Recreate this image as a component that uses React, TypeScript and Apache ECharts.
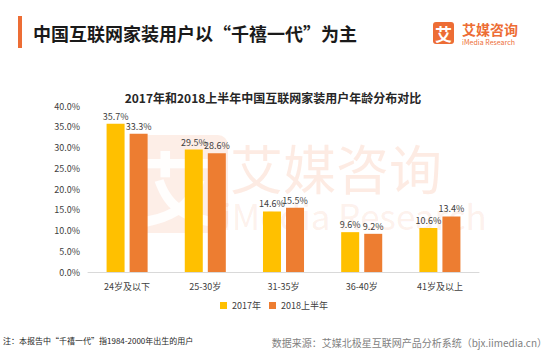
import React, { useEffect, useRef } from "react";
import * as echarts from "echarts";

const categories = ["24岁及以下", "25-30岁", "31-35岁", "36-40岁", "41岁及以上"];
const series2017 = [35.7, 29.5, 14.6, 9.6, 10.6];
const series2018 = [33.3, 28.6, 15.5, 9.2, 13.4];
const seriesNames = ["2017年", "2018上半年"];
const yTicks = { min: 0, max: 40, interval: 5 };

const FONT = "'Noto Sans CJK SC', 'Noto Sans', sans-serif";

export default function App() {
  const ref = useRef<HTMLDivElement>(null);
  useEffect(() => {
    if (!ref.current) return;
    const chart = echarts.init(ref.current, undefined, { renderer: "svg" });
    chart.setOption({
      animation: false,
      backgroundColor: "#ffffff",
      textStyle: { fontFamily: FONT },
      title: {
        text: "2017年和2018上半年中国互联网家装用户年龄分布对比",
        left: 268,
        textAlign: "center",
        top: 86,
        textStyle: { fontSize: 12, fontWeight: "bold", color: "#262626", fontFamily: FONT },
      },
      grid: { left: 88, right: 70, top: 106, bottom: 82 },
      legend: {
        data: seriesNames,
        top: 296,
        left: 215,
        itemWidth: 7,
        itemHeight: 7,
        itemGap: 8,
        icon: "rect",
        textStyle: { fontSize: 9, color: "#404040", fontFamily: FONT },
      },
      xAxis: {
        type: "category",
        data: categories,
        axisLine: { lineStyle: { color: "#d9d9d9" } },
        axisTick: { show: false },
        axisLabel: { fontSize: 9, color: "#404040", margin: 10, fontFamily: FONT },
      },
      yAxis: {
        type: "value",
        min: yTicks.min,
        max: yTicks.max,
        interval: yTicks.interval,
        splitLine: { show: false },
        axisLine: { show: false },
        axisTick: { show: false },
        axisLabel: {
          fontSize: 9,
          color: "#404040",
          margin: 8,
          fontFamily: FONT,
          formatter: (v: number) => v.toFixed(1) + "%",
        },
      },
      graphic: [
        { type: "rect", shape: { x: 18, y: 16, width: 4, height: 32 }, style: { fill: "#ED6D35" } },
        {
          type: "text",
          x: 33,
          y: 33,
          style: {
            text: "中国互联网家装用户以“千禧一代”为主",
            fontSize: 18,
            fontWeight: "bold",
            fill: "#1a1a1a",
            fontFamily: FONT,
            verticalAlign: "middle",
          },
        },
        { type: "rect", shape: { x: 433, y: 22, width: 21, height: 22, r: 3 }, style: { fill: "#ED6D35" } },
        {
          type: "text",
          x: 443.5,
          y: 33,
          style: { text: "艾", fontSize: 17, fontWeight: "bold", fill: "#ffffff", align: "center", verticalAlign: "middle", fontFamily: FONT },
        },
        {
          type: "text",
          x: 462,
          y: 29,
          style: { text: "艾媒咨询", fontSize: 14, fontWeight: "bold", fill: "#ED6D35", verticalAlign: "middle", fontFamily: FONT },
        },
        {
          type: "text",
          x: 462,
          y: 42,
          style: { text: "iMedia Research", fontSize: 7, fill: "#ED6D35", verticalAlign: "middle", fontFamily: FONT },
        },
        // watermark
        {
          type: "group",
          silent: true,
          z: -10,
          children: [
            { type: "rect", shape: { x: 130, y: 135, width: 98, height: 98, r: 10 }, style: { fill: "rgba(240,120,70,0.13)" } },
            {
              type: "text",
              x: 179,
              y: 184,
              style: { text: "艾", fontSize: 80, fontWeight: "bold", fill: "rgba(255,255,255,0.9)", align: "center", verticalAlign: "middle", fontFamily: FONT },
            },
            {
              type: "text",
              x: 230,
              y: 167,
              style: { text: "艾媒咨询", fontSize: 53, fill: "rgba(240,120,70,0.15)", verticalAlign: "middle", fontFamily: FONT },
            },
            {
              type: "text",
              x: 222,
              y: 214,
              style: { text: "iMedia Research", fontSize: 35, fill: "rgba(240,120,70,0.11)", verticalAlign: "middle", fontFamily: FONT },
            },
          ],
        },
        {
          type: "text",
          x: 3,
          y: 340,
          style: { text: "注：本报告中“千禧一代”指1984-2000年出生的用户", fontSize: 8, fill: "#262626", verticalAlign: "middle", fontFamily: FONT },
        },
        {
          type: "text",
          x: 547,
          y: 342,
          style: { text: "数据来源：艾媒北极星互联网产品分析系统（bjx.iimedia.cn）", fontSize: 10, fill: "#7f7f7f", align: "right", verticalAlign: "middle", fontFamily: FONT },
        },
      ],
      series: [
        {
          name: seriesNames[0],
          type: "bar",
          data: series2017,
          barWidth: 18,
          barGap: "28%",
          itemStyle: { color: "#FFC000" },
          label: { show: true, position: "top", fontSize: 9, color: "#404040", distance: 3, formatter: (p: any) => p.value.toFixed(1) + "%" },
        },
        {
          name: seriesNames[1],
          type: "bar",
          data: series2018,
          barWidth: 18,
          itemStyle: { color: "#ED7D31" },
          label: { show: true, position: "top", fontSize: 9, color: "#404040", distance: 3, formatter: (p: any) => p.value.toFixed(1) + "%" },
        },
      ],
    });
    return () => chart.dispose();
  }, []);
  return <div ref={ref} style={{ width: 549, height: 354, position: "absolute", left: 0, top: 0 }} />;
}
